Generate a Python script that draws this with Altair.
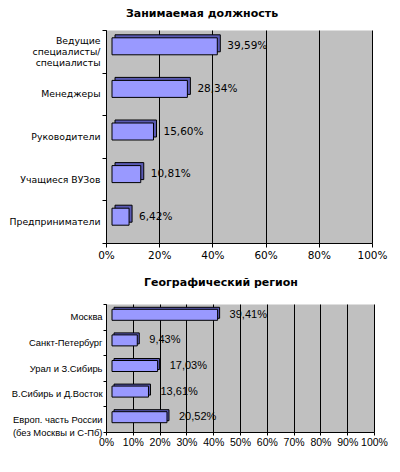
import altair as alt
import pandas as pd

top_title = "Занимаемая должность"
top_cats = ["Ведущие\u00a0\u00a0\u00a0\u00a0|специалисты/|специалисты\u2009",
            "Менеджеры", "Руководители", "Учащиеся ВУЗов", "Предприниматели"]
top_vals = [39.59, 28.34, 15.60, 10.81, 6.42]
top_ticks = [0, 20, 40, 60, 80, 100]

bot_title = "Географический регион"
bot_cats = ["Москва", "Санкт-Петербург", "Урал и З.Сибирь", "В.Сибирь и Д.Восток",
            "Европ. часть России|(без Москвы и С-Пб)"]
bot_vals = [39.41, 9.43, 17.03, 13.61, 20.52]
bot_ticks = [0, 10, 20, 30, 40, 50, 60, 70, 80, 90, 100]


def fmt(v):
    return f"{v:.2f}".replace(".", ",") + "%"


def panel(cats, vals, ticks, title, w, h, font, fsize, yfsize, line_h, ylab_expr,
          ylab_off, bar_h, lift, depth, tick_y, pad_y, label_dx, title_dx, title_off,
          xpad, xtick, xfsize):
    df = pd.DataFrame({"cat": cats, "val": vals, "lab": [fmt(v) for v in vals]})
    base = alt.Chart(df)
    xs = alt.Scale(domain=[0, 100], nice=False)
    ys = alt.Scale(domain=cats, paddingInner=0, paddingOuter=0)
    xaxis = alt.Axis(values=ticks, labelExpr="datum.value + '%'", grid=True,
                     gridColor="black", gridOpacity=1, gridWidth=1,
                     domainColor="black", tickColor="black", tickSize=xtick,
                     labelFont=font, labelFontSize=xfsize, labelColor="black",
                     labelPadding=xpad, title=None, labelFlush=False,
                     labelOverlap=False)
    yaxis = alt.Axis(title=None, tickBand="extent", labelExpr=ylab_expr,
                     labelOffset=ylab_off,
                     labelFont=font, labelFontSize=yfsize, labelColor="black",
                     labelLineHeight=line_h, tickSize=tick_y, labelPadding=pad_y,
                     domainColor="black", tickColor="black", labelLimit=300)
    X = alt.X("val:Q", scale=xs, axis=xaxis)
    Y = alt.Y("cat:N", scale=ys, axis=yaxis, sort=cats)
    back = base.mark_bar(height=bar_h, color="#5A5AB4", stroke="black", strokeWidth=1,
                         xOffset=6 + depth, x2Offset=6 + depth,
                         yOffset=lift - depth).encode(x=X, x2=alt.datum(0), y=Y)
    front = base.mark_bar(height=bar_h, color="#9999FF", stroke="black", strokeWidth=1,
                          xOffset=6, x2Offset=6, yOffset=lift).encode(
        x=X, x2=alt.datum(0), y=Y)
    text = base.mark_text(align="left", baseline="middle", dx=label_dx, dy=lift,
                          font=font, fontSize=fsize, color="black").encode(
        x=X, y=Y, text="lab:N")
    return alt.layer(back, front, text).properties(
        width=w, height=h,
        title=alt.TitleParams(title, font="DejaVu Sans", fontSize=11, fontWeight="bold",
                              anchor="middle", dx=title_dx, offset=title_off,
                              color="black"),
    )


top = panel(top_cats, top_vals, top_ticks, top_title, 266, 213,
            "DejaVu Sans", 10.5, 9.3, 11,
            "indexof(datum.label, '|') >= 0 ? split(datum.label, '|') : ['', datum.label]",
            -11, 17, -5, 3, 4, 2, 16, -37, 7, 3, 4, 10.5)
bot = panel(bot_cats, bot_vals, bot_ticks, bot_title, 268, 128,
            "Liberation Sans", 11, 9.4, 13, "split(datum.label, '|')",
            0, 11, -2, 2, 3, 1, 18, -19, 11, 2, 3, 10.5)

chart = alt.vconcat(top, bot, spacing=16).configure_view(
    fill="#C0C0C0", strokeOpacity=0
).properties(background="white",
             padding={"left": 0, "top": 0, "right": 0, "bottom": 0})

chart.save("out.html", embed_options={"renderer": "svg", "actions": False})
